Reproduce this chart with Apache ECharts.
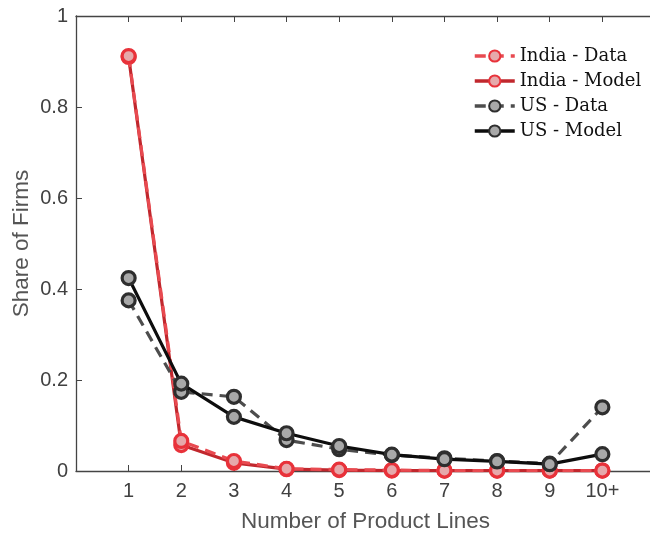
<!DOCTYPE html>
<html><head><meta charset="utf-8">
<script src="https://cdn.jsdelivr.net/npm/echarts@6/dist/echarts.min.js"></script>
<style>html,body{margin:0;padding:0;background:#fff}#c{width:650px;height:533px}</style>
</head><body><div id="c"></div>
<script>
const categories = [1,2,3,4,5,6,7,8,9,10];
const tickLabels = ['1','2','3','4','5','6','7','8','9','10+'];
const indiaData  = [0.912, 0.066, 0.022, 0.005, 0.003, 0.002, 0.001, 0.001, 0.001, 0.001];
const indiaModel = [0.910, 0.057, 0.018, 0.004, 0.002, 0.001, 0.001, 0.001, 0.001, 0.001];
const usData     = [0.375, 0.174, 0.163, 0.068, 0.048, 0.035, 0.028, 0.022, 0.016, 0.140];
const usModel    = [0.424, 0.192, 0.119, 0.083, 0.055, 0.036, 0.026, 0.021, 0.015, 0.037];

const pair = arr => categories.map((c,i)=>[c, arr[i]]);
const axisColor = '#444';
function mk(name, data, lineColor, dashed, edge, fill, z){
  return {
    name, type:'line', data: pair(data), z,
    symbol:'circle', symbolSize:13,
    lineStyle:{color:lineColor, width:3.2, type: dashed ? [11,7] : 'solid'},
    itemStyle:{color:fill, borderColor:edge, borderWidth:3.2},
    emphasis:{disabled:true}
  };
}
const chart = echarts.init(document.getElementById('c'));
chart.setOption({
  animation:false,
  grid:{left:76, top:16, width:579, bottom:62, outerBoundsMode:'none', containLabel:false},
  legend:{
    orient:'vertical', left:468, top:42, itemWidth:40, itemHeight:14, itemGap:7,
    lineStyle:{width:3.5},
    textStyle:{fontFamily:'DejaVu Serif', fontSize:18, color:'#111'},
    data:['India - Data','India - Model','US - Data','US - Model']
  },
  xAxis:[{
    type:'value', min:0, max:11, interval:1,
    name:'Number of Product Lines', nameLocation:'middle', nameGap:39, nameMoveOverlap:false,
    nameTextStyle:{fontFamily:'Liberation Sans', fontSize:22.5, color:'#555'},
    axisLine:{lineStyle:{color:axisColor, width:1.3}},
    axisTick:{inside:true, length:6, lineStyle:{color:axisColor}},
    axisLabel:{fontFamily:'Liberation Sans', fontSize:20, color:'#404040', margin:10,
      formatter: v => (v>=1 && v<=10) ? tickLabels[v-1] : ''},
    splitLine:{show:false}
  },{
    type:'value', min:0, max:11, interval:1, position:'top',
    axisLine:{show:true, lineStyle:{color:axisColor, width:1.3}},
    axisTick:{inside:true, length:6, lineStyle:{color:axisColor}},
    axisLabel:{show:false}, splitLine:{show:false}
  }],
  yAxis:{
    type:'value', min:0, max:1, interval:0.2,
    name:'Share of Firms', nameLocation:'middle', nameGap:43, nameMoveOverlap:false,
    nameTextStyle:{fontFamily:'Liberation Sans', fontSize:22.5, color:'#555'},
    axisLine:{show:true, lineStyle:{color:axisColor, width:1.3}},
    axisTick:{show:true, inside:true, length:6, lineStyle:{color:axisColor}},
    axisLabel:{fontFamily:'Liberation Sans', fontSize:20, color:'#404040', margin:8,
      formatter: v => v===0 ? '0' : v===1 ? '1' : String(+v.toFixed(1))},
    splitLine:{show:false}
  },
  series:[
    mk('India - Model', indiaModel, '#c1272d', false, '#e8323a', '#e6a9ab', 2),
    mk('India - Data', indiaData, '#e84a50', true, '#e8323a', '#e6a9ab', 3),
    mk('US - Data', usData, '#4d4d4d', true, '#2e2e2e', '#a8a8a8', 4),
    mk('US - Model', usModel, '#0d0d0d', false, '#2e2e2e', '#a8a8a8', 5)
  ]
});
</script></body></html>
